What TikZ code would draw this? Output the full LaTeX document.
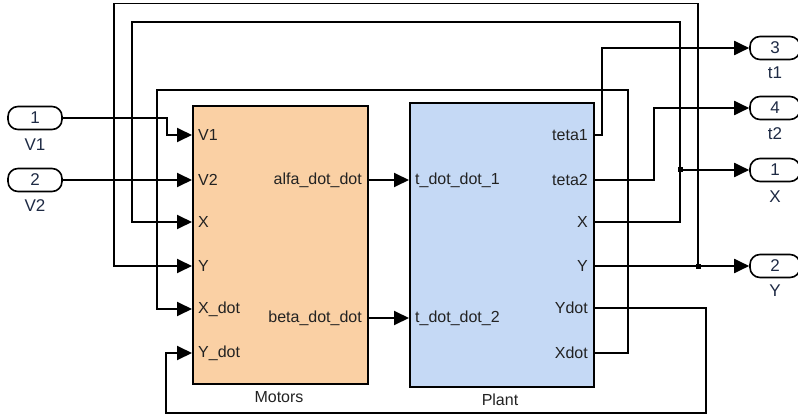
\documentclass[tikz,border=0pt]{standalone}
\usepackage{fontspec}
\setmainfont{Liberation Sans}
\usetikzlibrary{arrows.meta}
\definecolor{motorfill}{HTML}{FAD0A4}
\definecolor{plantfill}{HTML}{C5D9F5}
\definecolor{txt}{HTML}{222222}
\definecolor{iotxt}{HTML}{1E2A44}
\begin{document}
\begin{tikzpicture}[x=1pt,y=-1pt,
  wire/.style={line width=1.9pt,black},
  arr/.style={wire,-{Triangle[length=15pt,width=14pt]}},
  blockbox/.style={draw,line width=1.9pt,anchor=north west,inner sep=0pt},
  portlbl/.style={text=txt,font=\fontsize{16}{19}\selectfont,inner sep=0pt},
  iobox/.style={draw,line width=1.6pt,rounded corners=10pt,minimum width=54pt,minimum height=23pt,inner sep=0pt,text=iotxt,font=\fontsize{17}{20}\selectfont},
  iolbl/.style={text=iotxt,font=\fontsize{17}{20}\selectfont,inner sep=0pt},
  bdot/.style={fill=black,minimum size=5pt,inner sep=0pt}]
\useasboundingbox (0,0) rectangle (798,417);
\fill[white] (0,0) rectangle (798,417);

% blocks
\node[blockbox,fill=motorfill,minimum width=175pt,minimum height=278pt] (motors) at (192,105) {};
\node[blockbox,fill=plantfill,minimum width=184pt,minimum height=284pt] (plant) at (409,102) {};
\node[portlbl] (motorsname) at (279,397) {Motors};
\node[portlbl] (plantname) at (500,400) {Plant};

% Motors port labels
\node[portlbl,anchor=west] (lV1) at (198,135) {V1};
\node[portlbl,anchor=west] (lV2) at (198,180) {V2};
\node[portlbl,anchor=west] (lX) at (198,222) {X};
\node[portlbl,anchor=west] (lY) at (198,266) {Y};
\node[portlbl,anchor=west] (lXd) at (198,309) {X\_dot};
\node[portlbl,anchor=west] (lYd) at (198,353) {Y\_dot};
\node[portlbl,anchor=east] (lalfa) at (362,180) {alfa\_dot\_dot};
\node[portlbl,anchor=east] (lbeta) at (362,318) {beta\_dot\_dot};
% Plant port labels
\node[portlbl,anchor=west] (lt1) at (415,180) {t\_dot\_dot\_1};
\node[portlbl,anchor=west] (lt2) at (415,318) {t\_dot\_dot\_2};
\node[portlbl,anchor=east] (lteta1) at (588,135) {teta1};
\node[portlbl,anchor=east] (lteta2) at (588,180) {teta2};
\node[portlbl,anchor=east] (lpX) at (588,222) {X};
\node[portlbl,anchor=east] (lpY) at (588,266) {Y};
\node[portlbl,anchor=east] (lpYd) at (588,308) {Ydot};
\node[portlbl,anchor=east] (lpXd) at (588,353) {Xdot};

% port coordinates
\coordinate (mV1) at (192,135);
\coordinate (mV2) at (192,180);
\coordinate (mX) at (192,222);
\coordinate (mY) at (192,266);
\coordinate (mXd) at (192,309);
\coordinate (mYd) at (192,353);
\coordinate (mA) at (367,180);
\coordinate (mB) at (367,318);
\coordinate (pT1) at (409,180);
\coordinate (pT2) at (409,318);
\coordinate (pO1) at (593,135);
\coordinate (pO2) at (593,180);
\coordinate (pX) at (593,222);
\coordinate (pY) at (593,266);
\coordinate (pYd) at (593,308);
\coordinate (pXd) at (593,353);

% inports
\node[iobox] (in1) at (35,118) {1};
\node[iolbl] (in1l) at (35,145) {V1};
\node[iobox] (in2) at (35,180) {2};
\node[iolbl] (in2l) at (35,206) {V2};
% outports
\node[iobox,minimum width=50pt] (out3) at (775,48) {3};
\node[iolbl] (out3l) at (775,73) {t1};
\node[iobox,minimum width=50pt] (out4) at (775,108) {4};
\node[iolbl] (out4l) at (775,134) {t2};
\node[iobox,minimum width=50pt] (out1) at (775,170) {1};
\node[iolbl] (out1l) at (775,197) {X};
\node[iobox,minimum width=50pt] (out2) at (775,266) {2};
\node[iolbl] (out2l) at (775,291) {Y};

% branch points
\node[bdot] (bX) at (680,170) {};
\node[bdot] (bY) at (698,266) {};

% wires
\draw[arr] (in1.east) -- (167,118) -- (167,135) -- (mV1);
\draw[arr] (in2.east) -- (mV2);
\draw[arr] (mA) -- (pT1);
\draw[arr] (mB) -- (pT2);
\draw[arr] (pO1) -- (602,135) -- (602,48) -- (out3.west);
\draw[arr] (pO2) -- (654,180) -- (654,108) -- (out4.west);
% X feedback
\draw[wire] (pX) -- (680,222) -- (bX.center);
\draw[arr] (bX.center) -- (680,22) -- (132,22) -- (132,222) -- (mX);
\draw[arr] (bX.center) -- (out1.west);
% Y feedback
\draw[wire] (pY) -- (bY.center);
\draw[arr] (bY.center) -- (out2.west);
\draw[arr] (bY.center) -- (698,3.5) -- (114,3.5) -- (114,266) -- (mY);
% Xdot feedback
\draw[arr] (pXd) -- (628,353) -- (628,90) -- (157,90) -- (157,309) -- (mXd);
% Ydot feedback
\draw[arr] (pYd) -- (706,308) -- (706,413) -- (166,413) -- (166,353) -- (mYd);
\end{tikzpicture}
\end{document}
